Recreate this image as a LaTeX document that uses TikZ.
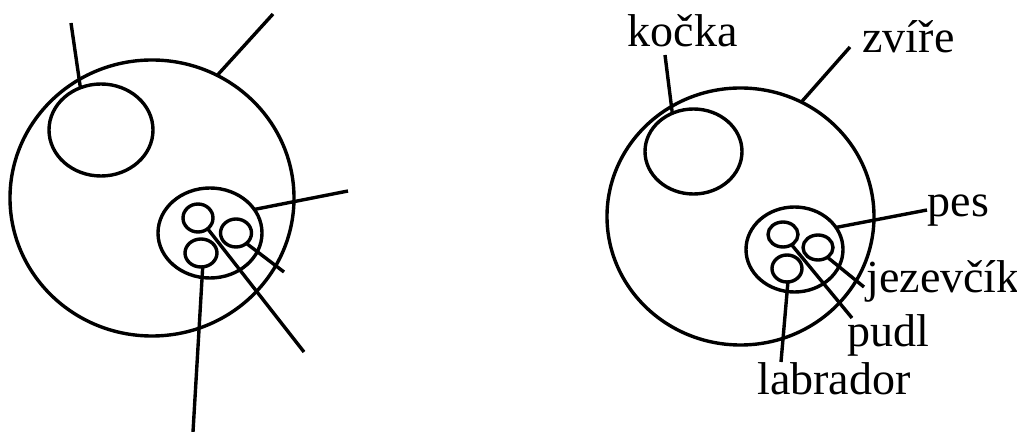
\documentclass[tikz,border=0pt]{standalone}
\usepackage{fontspec}
\setmainfont{Liberation Serif}
\usetikzlibrary{shapes.geometric}
\begin{document}
\begin{tikzpicture}[x=0.5pt,y=-0.5pt,
  ell/.style 2 args={draw, ellipse, inner sep=0pt, outer sep=0pt, line width=1.7pt, minimum width=#1*0.5pt, minimum height=#2*0.5pt},
  conn/.style={line width=1.7pt},
  lbl/.style={anchor=base, inner sep=0pt, font=\fontsize{23}{27}\selectfont}]
\useasboundingbox (0,0) rectangle (1017,432);
% ---------- left diagram ----------
\node[ell={284}{276}] (Lzv) at (152,198) {};
\node[ell={104}{92}] (Lko) at (101,130) {};
\node[ell={104}{90}] (Lpes) at (210,233) {};
\node[ell={30}{28}] (Lpu) at (198,218) {};
\node[ell={31}{28}] (Lje) at (236,233) {};
\node[ell={32}{28}] (Lla) at (201,253) {};
\coordinate (Lzv-e) at (273,14);
\coordinate (Lko-e) at (71,23);
\coordinate (Lpes-e) at (348,191);
\coordinate (Lje-e) at (284,272);
\coordinate (Lpu-e) at (304,352);
\coordinate (Lla-e) at (193,432);
\draw[conn] (Lzv.62) -- (Lzv-e);
\draw[conn] (Lko.116) -- (Lko-e);
\draw[conn] (Lpes.28) -- (Lpes-e);
\draw[conn] (Lpu.-48) -- (Lpu-e);
\draw[conn] (Lje.-45) -- (Lje-e);
\draw[conn] (Lla.-83) -- (Lla-e);
% ---------- right diagram ----------
\node[ell={267}{257}] (Rzv) at (740.5,216.5) {};
\node[ell={97}{85}] (Rko) at (693.5,151.5) {};
\node[ell={97}{85}] (Rpes) at (794.5,249.5) {};
\node[ell={30}{25}] (Rpu) at (783,234.5) {};
\node[ell={30}{25}] (Rje) at (818,247.5) {};
\node[ell={30}{27}] (Rla) at (787,268.5) {};
\node[lbl] (tko) at (682.5,47) {kočka};
\node[lbl] (tzv) at (908.5,53) {zvíře};
\node[lbl] (tpes) at (958.5,217) {pes};
\node[lbl] (tje) at (943,293) {jezevčík};
\node[lbl] (tpu) at (888.5,347) {pudl};
\node[lbl] (tla) at (834,395) {labrador};
\coordinate (Rko-e) at (665,55);
\coordinate (Rzv-e) at (850,47);
\coordinate (Rpes-e) at (927,210);
\coordinate (Rje-e) at (864,287);
\coordinate (Rpu-e) at (852,318);
\coordinate (Rla-e) at (781,362);
\draw[conn] (Rzv.62) -- (Rzv-e);
\draw[conn] (Rko.119) -- (Rko-e);
\draw[conn] (Rpes.28.5) -- (Rpes-e);
\draw[conn] (Rpu.-50) -- (Rpu-e);
\draw[conn] (Rje.-46) -- (Rje-e);
\draw[conn] (Rla.-86) -- (Rla-e);
\end{tikzpicture}
\end{document}
